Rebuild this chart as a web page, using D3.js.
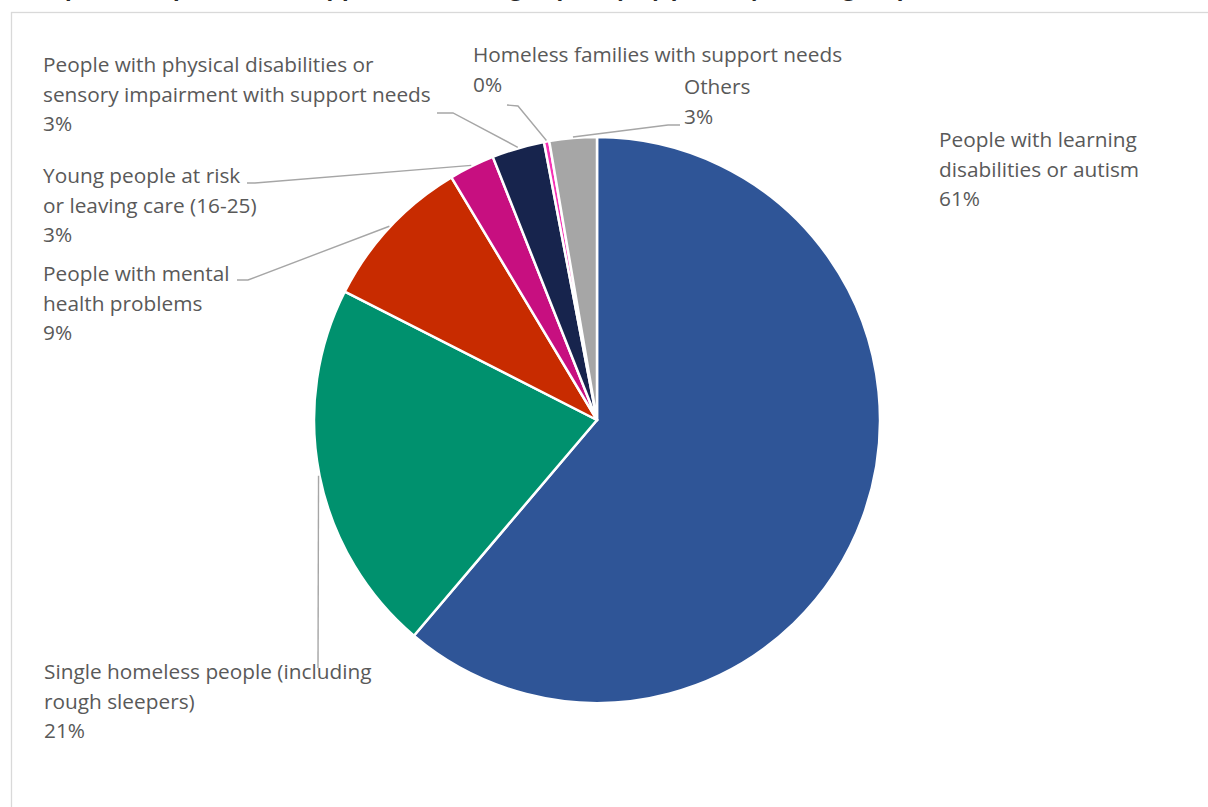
<!DOCTYPE html>
<html><head><meta charset="utf-8">
<script src="https://cdn.jsdelivr.net/npm/d3@7/dist/d3.min.js"></script>
<style>
html,body{margin:0;padding:0;background:#fff;overflow:hidden;}
svg{display:block;}
</style></head>
<body>
<svg id="chart" width="1208" height="807"></svg>
<script>
const categories = [
  "People with learning disabilities or autism",
  "Single homeless people (including rough sleepers)",
  "People with mental health problems",
  "Young people at risk or leaving care (16-25)",
  "People with physical disabilities or sensory impairment with support needs",
  "Homeless families with support needs",
  "Others"
];
const values = [61.2, 21.3, 8.9, 2.6, 3.0, 0.3, 2.7];
const colors = ["#2F5597", "#00916E", "#C82B00", "#C70F80", "#17244D", "#F531B4", "#A6A6A6"];
const labelLines = [
  ["People with learning", "disabilities or autism"],
  ["Single homeless people (including", "rough sleepers)"],
  ["People with mental", "health problems"],
  ["Young people at risk", "or leaving care (16-25)"],
  ["People with physical disabilities or", "sensory impairment with support needs"],
  ["Homeless families with support needs"],
  ["Others"]
];
const titleText = "Graph 1: Proportion of supported housing capacity by primary client group";

// layout (positions of label blocks and leader elbows)
const labelPos = [[939,140],[44,672],[43,274],[43,176],[43,65],[473,55],[684,87]];
const leaderPts = [
  null,
  [[318,668]],
  [[248,280],[237,280]],
  [[255,183],[247,183]],
  [[453,113],[437,113]],
  [[518,106],[507,105]],
  [[668,125],[680,125]]
];

const svg = d3.select("#chart");
const W = 1208, H = 807;
const cx = 597, cy = 420, R = 283;

// frame
svg.append("rect").attr("x",11.5).attr("y",12.5).attr("width",W).attr("height",H)
  .attr("fill","#fff").attr("stroke","#D9D9D9").attr("stroke-width",1.3);

// title (cut off at top, as in the reference)
svg.append("text").attr("x",22).attr("y",-3)
  .attr("font-family","Lato, 'Open Sans', sans-serif").attr("font-weight","bold")
  .attr("font-size",27).attr("fill","#262626").text(titleText);

const total = d3.sum(values);
const pie = d3.pie().sort(null).value(d=>d).startAngle(0).endAngle(2*Math.PI);
const arcs = pie(values);
const arc = d3.arc().innerRadius(0).outerRadius(R);

const g = svg.append("g").attr("transform",`translate(${cx},${cy})`);
g.selectAll("path").data(arcs).join("path")
  .attr("d",arc).attr("fill",(d,i)=>colors[i])
  .attr("stroke","#fff").attr("stroke-width",2.5).attr("stroke-linejoin","round");

// leader lines
arcs.forEach((d,i)=>{
  if(!leaderPts[i]) return;
  const a = (d.startAngle+d.endAngle)/2;
  const sx = cx + Math.sin(a)*(R+1), sy = cy - Math.cos(a)*(R+1);
  const pts = [[sx,sy]].concat(leaderPts[i]);
  svg.append("path").attr("d",d3.line()(pts)).attr("fill","none")
    .attr("stroke","#A6A6A6").attr("stroke-width",1.4);
});

// labels
const fmt = v => Math.round(v/total*100) + "%";
arcs.forEach((d,i)=>{
  const [lx,ly] = labelPos[i];
  const lines = labelLines[i].concat([fmt(values[i])]);
  const t = svg.append("text").attr("x",lx).attr("y",ly)
    .attr("font-family","'Open Sans', sans-serif").attr("font-size",20.8)
    .attr("fill","#595959");
  lines.forEach((ln,k)=>{
    t.append("tspan").attr("x",lx).attr("y",ly + k*29.5).attr("dy","0.35em").text(ln);
  });
});
</script>
</body></html>
